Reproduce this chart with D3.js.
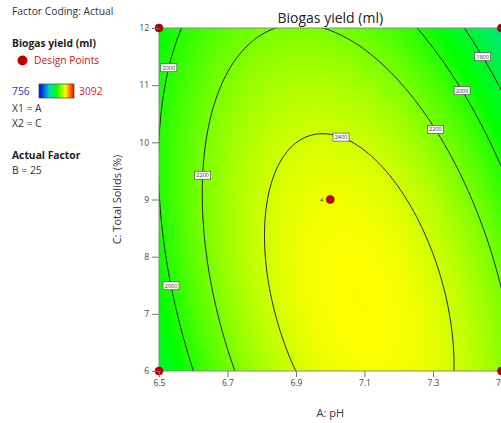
<!DOCTYPE html>
<html>
<head>
<meta charset="utf-8">
<script src="https://cdnjs.cloudflare.com/ajax/libs/d3/7.8.5/d3.min.js"></script>
<style>
  body { margin: 0; background: #fff; }
  text { font-family: "Open Sans", "Noto Sans", sans-serif; }
</style>
</head>
<body>
<div id="chart"></div>
<script>
let w = 501,
    h = 423;

// plot frame
let frame = { left: 159, right: 501.5, top: 28, bottom: 371 };

// axis ticks
const phTicks = [6.5, 6.7, 6.9, 7.1, 7.3, 7.5];
const solidsTicks = [6, 7, 8, 9, 10, 11, 12];

// quadratic model in coded units (A = pH, C = total solids)
const modelTerms = ["Intercept", "A", "C", "A²", "C²", "AC"];
const modelCoefs = [2472, 35.2, -135, -440, -143, -194];

const contourLevels = [1800, 2000, 2200, 2400];
const colorRange = [756, 3092];

// design points
const pointPH = [6.5, 7.5, 6.5, 7.5, 7.0];
const pointSolids = [12, 12, 6, 6, 9];
const pointReps = [1, 1, 1, 1, 4];

// where the contour labels sit (snapped onto the line)
const labelLevels = [2000, 2200, 2400, 2200, 2000, 1800, 2000];
const labelPH = [6.52, 6.63, 7.03, 7.31, 7.39, 7.45, 6.54];
const labelSolids = [11.3, 9.43, 10.11, 10.22, 10.93, 11.53, 7.49];

function yieldAt(ph, ts) {
  let a = (ph - 7) / 0.5,
      c = (ts - 9) / 3;
  let t = [1, a, c, a * a, c * c, a * c];
  return d3.sum(t, (v, i) => v * modelCoefs[i]);
}

let x = d3.scaleLinear().domain([6.5, 7.5]).range([frame.left, frame.right]);
let y = d3.scaleLinear().domain([6, 12]).range([frame.bottom, frame.top]);

let span = colorRange[1] - colorRange[0];
let color = d3.scaleLinear()
  .domain([0, 0.3, 0.5, 0.75, 1].map(t => colorRange[0] + t * span))
  .range(["#0000ff", "#00dcb4", "#00ff00", "#ffff00", "#ff0000"])
  .clamp(true);

let svg = d3.select("#chart")
  .append("svg")
  .attr("width", w)
  .attr("height", h);

svg.append("clipPath")
  .attr("id", "plotclip")
  .append("rect")
  .attr("x", frame.left)
  .attr("y", frame.top)
  .attr("width", frame.right - frame.left)
  .attr("height", frame.bottom - frame.top);

// heat map
let cw = Math.ceil(frame.right - frame.left),
    ch = Math.ceil(frame.bottom - frame.top);
let canvas = document.createElement("canvas");
canvas.width = cw;
canvas.height = ch;
let ctx = canvas.getContext("2d");
let img = ctx.createImageData(cw, ch);
for (let j = 0; j < ch; j++) {
  for (let i = 0; i < cw; i++) {
    let v = yieldAt(x.invert(frame.left + i + 0.5), y.invert(frame.top + j + 0.5));
    let c = d3.rgb(color(v));
    let k = (j * cw + i) * 4;
    img.data[k] = c.r;
    img.data[k + 1] = c.g;
    img.data[k + 2] = c.b;
    img.data[k + 3] = 255;
  }
}
ctx.putImageData(img, 0, 0);

svg.append("image")
  .attr("x", frame.left)
  .attr("y", frame.top)
  .attr("width", cw)
  .attr("height", ch)
  .attr("preserveAspectRatio", "none")
  .attr("clip-path", "url(#plotclip)")
  .attr("href", canvas.toDataURL());

// contours on a grid that runs a bit past the frame
let nx = 141, ny = 141;
let phMin = 6.45, phMax = 7.55, tsMin = 5.7, tsMax = 12.3;
let phAt = g => phMin + (g - 0.5) / (nx - 1) * (phMax - phMin);
let tsAt = g => tsMin + (g - 0.5) / (ny - 1) * (tsMax - tsMin);
let grid = new Array(nx * ny);
for (let j = 0; j < ny; j++) {
  for (let i = 0; i < nx; i++) {
    grid[j * nx + i] = yieldAt(phAt(i + 0.5), tsAt(j + 0.5));
  }
}
let contours = d3.contours().size([nx, ny]).thresholds(contourLevels)(grid);

let toPixels = d3.geoTransform({
  point: function(gx, gy) {
    this.stream.point(x(phAt(gx)), y(tsAt(gy)));
  }
});
let path = d3.geoPath(toPixels);

svg.append("g")
  .attr("clip-path", "url(#plotclip)")
  .selectAll("path")
  .data(contours)
  .enter()
  .append("path")
  .attr("d", path)
  .attr("fill", "none")
  .attr("stroke", "#222")
  .attr("stroke-width", 1);

// frame
svg.append("rect")
  .attr("x", frame.left)
  .attr("y", frame.top)
  .attr("width", frame.right - frame.left)
  .attr("height", frame.bottom - frame.top)
  .attr("fill", "none")
  .attr("stroke", "#8a8a8a")
  .attr("stroke-width", 1);

// contour labels
let labels = labelLevels.map((lev, i) => {
  let tx = x(labelPH[i]), ty = y(labelSolids[i]);
  let cont = contours.find(c => c.value === lev);
  let best = [tx, ty], bestD = Infinity;
  cont.coordinates.forEach(poly => poly.forEach(ring => ring.forEach(p => {
    let px = x(phAt(p[0])), py = y(tsAt(p[1]));
    let d = (px - tx) * (px - tx) + (py - ty) * (py - ty);
    if (d < bestD) { bestD = d; best = [px, py]; }
  })));
  return { level: lev, x: best[0], y: best[1] };
});

let lab = svg.append("g")
  .selectAll("g")
  .data(labels)
  .enter()
  .append("g")
  .attr("transform", d => "translate(" + d.x + "," + d.y + ")");

lab.append("rect")
  .attr("x", -8)
  .attr("y", -4)
  .attr("width", 16)
  .attr("height", 8)
  .attr("fill", "#fff")
  .attr("stroke", "#555")
  .attr("stroke-width", 0.7);

lab.append("text")
  .attr("text-anchor", "middle")
  .attr("dy", "2")
  .style("font-size", "5.5px")
  .attr("fill", "#333")
  .text(d => d.level);

// design points
svg.append("g")
  .selectAll("circle")
  .data(pointPH)
  .enter()
  .append("circle")
  .attr("cx", (d, i) => x(d))
  .attr("cy", (d, i) => y(pointSolids[i]))
  .attr("r", 4)
  .attr("fill", "#c00000")
  .attr("stroke", "#800000")
  .attr("stroke-width", 0.6);

svg.append("g")
  .selectAll("text")
  .data(pointPH.filter((d, i) => pointReps[i] > 1))
  .enter()
  .append("text")
  .attr("x", d => x(d) - 7)
  .attr("y", (d, i) => y(pointSolids[pointReps.indexOf(4)]) + 2)
  .attr("text-anchor", "end")
  .style("font-size", "5.5px")
  .attr("fill", "#444")
  .text((d, i) => pointReps.filter(r => r > 1)[i]);

// axes
let xAxis = d3.axisBottom(x).tickValues(phTicks).tickSize(6).tickPadding(3).tickFormat(d3.format(".1f"));
let yAxis = d3.axisLeft(y).tickValues(solidsTicks).tickSize(7).tickPadding(3).tickFormat(d3.format("d"));

let gx = svg.append("g")
  .attr("transform", "translate(0," + frame.bottom + ")")
  .call(xAxis);
let gy = svg.append("g")
  .attr("transform", "translate(" + frame.left + ",0)")
  .call(yAxis);

[gx, gy].forEach(g => {
  g.select(".domain").remove();
  g.selectAll("line").attr("stroke", "#777");
  g.selectAll("text")
    .style("font-size", "8.5px")
    .style("font-family", "\"Open Sans\", sans-serif")
    .attr("fill", "#444");
});

svg.append("text")
  .attr("x", (frame.left + frame.right) / 2)
  .attr("y", 23)
  .attr("text-anchor", "middle")
  .style("font-size", "14px")
  .attr("fill", "#222")
  .text("Biogas yield (ml)");

svg.append("text")
  .attr("x", (frame.left + frame.right) / 2)
  .attr("y", 417)
  .attr("text-anchor", "middle")
  .style("font-size", "11px")
  .attr("fill", "#333")
  .text("A: pH");

svg.append("text")
  .attr("transform", "translate(121," + (frame.top + frame.bottom) / 2 + ") rotate(-90)")
  .attr("text-anchor", "middle")
  .style("font-size", "11px")
  .attr("fill", "#333")
  .text("C: Total Solids (%)");

// legend block
let legend = svg.append("g").style("font-size", "10.3px");

legend.append("text").attr("x", 12).attr("y", 15).attr("fill", "#333").text("Factor Coding: Actual");
legend.append("text").attr("x", 12).attr("y", 47).attr("fill", "#222").style("font-weight", "bold").text("Biogas yield (ml)");
legend.append("circle").attr("cx", 22.5).attr("cy", 60.5).attr("r", 5).attr("fill", "#c00000");
legend.append("text").attr("x", 34).attr("y", 64).attr("fill", "#c02020").text("Design Points");

let grad = svg.append("defs")
  .append("linearGradient")
  .attr("id", "legendgrad");
grad.selectAll("stop")
  .data(d3.range(0, 1.001, 0.05))
  .enter()
  .append("stop")
  .attr("offset", d => d * 100 + "%")
  .attr("stop-color", d => color(colorRange[0] + d * span));

legend.append("text").attr("x", 12).attr("y", 95).attr("fill", "#3333bb").text(colorRange[0]);
legend.append("rect")
  .attr("x", 39)
  .attr("y", 84)
  .attr("width", 35)
  .attr("height", 14)
  .attr("fill", "url(#legendgrad)")
  .attr("stroke", "#444")
  .attr("stroke-width", 0.7);
legend.append("text").attr("x", 79).attr("y", 95).attr("fill", "#e02828").text(colorRange[1]);
legend.append("text").attr("x", 12).attr("y", 112).attr("fill", "#333").text("X1 = A");
legend.append("text").attr("x", 12).attr("y", 127).attr("fill", "#333").text("X2 = C");
legend.append("text").attr("x", 12).attr("y", 159).attr("fill", "#222").style("font-weight", "bold").text("Actual Factor");
legend.append("text").attr("x", 12).attr("y", 174).attr("fill", "#333").text("B = 25");
</script>
</body>
</html>
